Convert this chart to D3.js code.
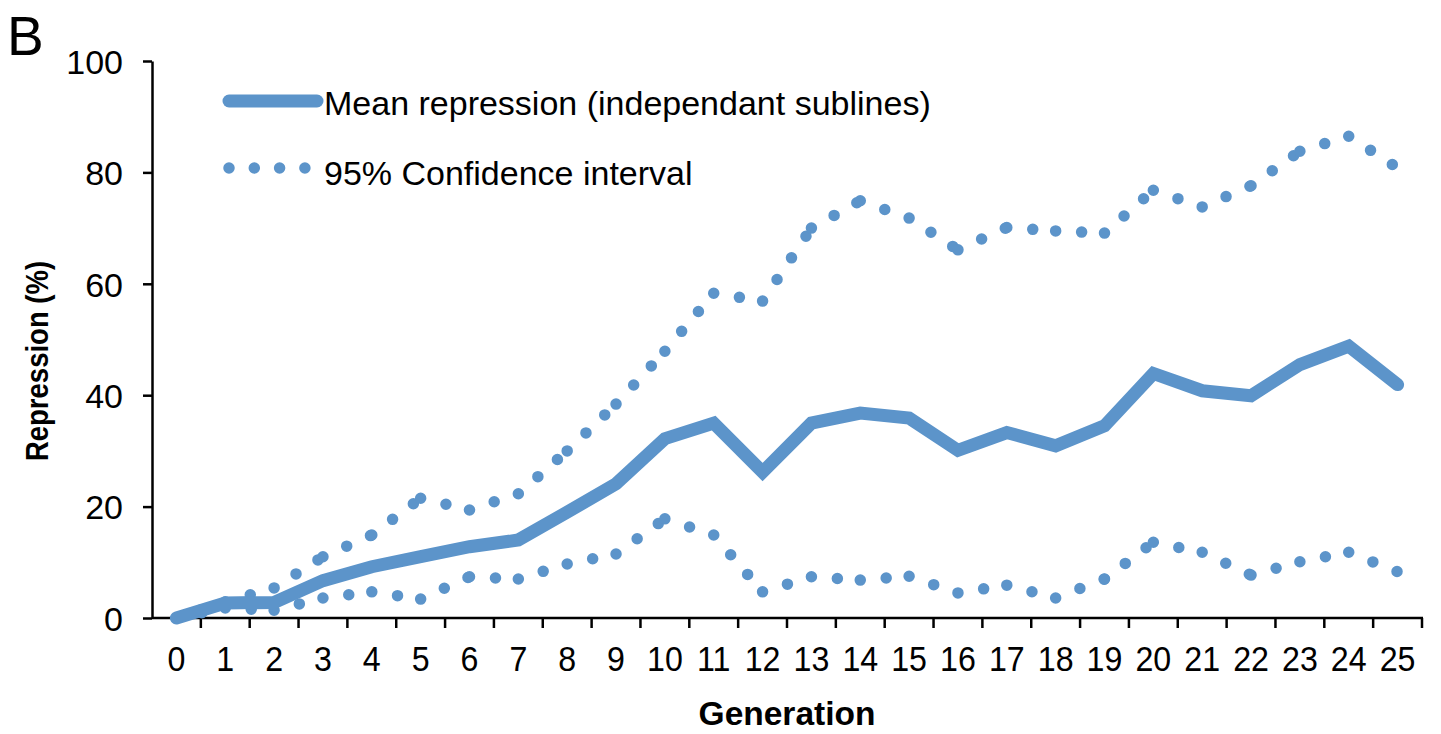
<!DOCTYPE html>
<html>
<head>
<meta charset="utf-8">
<script src="https://cdn.jsdelivr.net/npm/d3@7/dist/d3.min.js"></script>
<style>
  html, body { margin: 0; padding: 0; background: #fff; }
  svg { display: block; }
  text { font-family: "Liberation Sans", Arial, sans-serif; fill: #000; }
</style>
</head>
<body>
<svg id="chart" width="1441" height="734"></svg>
<script>
// Generations (x categories)
const generations = ["0","1","2","3","4","5","6","7","8","9","10","11","12","13","14","15","16","17","18","19","20","21","22","23","24","25"];

// Mean repression (%) over independent sublines
const meanRepression = [0, 2.7, 2.8, 6.7, 9.2, 11.0, 12.8, 14.0, 19.0, 24.1, 32.2, 35.0, 26.2, 35.0, 36.8, 35.9, 30.1, 33.3, 30.9, 34.5, 43.9, 40.8, 39.9, 45.5, 48.8, 41.9];

// 95% confidence interval bounds (%)
const ciUpper = [0, 2.9, 5.4, 11.0, 14.9, 21.5, 19.4, 22.3, 30.0, 38.4, 47.9, 58.3, 56.9, 70.0, 74.9, 71.8, 66.1, 70.1, 69.5, 69.1, 76.8, 73.8, 77.6, 83.8, 86.5, 80.8];
const ciLower = [0, 1.8, 1.4, 3.6, 4.7, 3.4, 7.4, 7.0, 9.7, 11.5, 17.8, 14.9, 4.7, 7.4, 6.8, 7.5, 4.5, 5.9, 3.6, 7.0, 13.6, 11.8, 7.7, 10.1, 11.8, 8.3];

// Axis ticks
const yTicks = [0, 20, 40, 60, 80, 100];

// Legend labels
const legendLabels = ["Mean repression (independant sublines)", "95% Confidence interval"];

const blue = "#5c94ca";
const svg = d3.select("#chart");

const plot = { left: 152, right: 1422, top: 61, bottom: 618 };

const x = d3.scaleBand().domain(generations).range([plot.left, plot.right]).padding(0);
const y = d3.scaleLinear().domain([0, 100]).range([plot.bottom, plot.top]);
const cx = g => x(g) + x.bandwidth() / 2;

// Panel letter
svg.append("text").attr("x", 7).attr("y", 55)
  .style("font-size", "55px").text("B");

// Y axis
const yAxis = svg.append("g")
  .attr("transform", `translate(${plot.left},0)`)
  .call(d3.axisLeft(y).tickValues(yTicks).tickSize(9).tickPadding(20).tickSizeOuter(0));
yAxis.select(".domain").attr("stroke", "#000").attr("stroke-width", 2.5);
yAxis.selectAll(".tick line").attr("stroke", "#000").attr("stroke-width", 2.5);
yAxis.selectAll(".tick text").style("font-size", "34px")
  .style("font-family", '"Liberation Sans", Arial, sans-serif').attr("fill", "#000").attr("dy", "0.36em");

// X axis: labels centred on categories, ticks on category boundaries
const xAxis = svg.append("g")
  .attr("transform", `translate(0,${plot.bottom})`)
  .call(d3.axisBottom(x).tickSize(0).tickPadding(0));
xAxis.select(".domain").remove();
xAxis.selectAll(".tick text")
  .style("font-size", "35px")
  .style("font-family", '"Liberation Sans", Arial, sans-serif')
  .attr("fill", "#000")
  .attr("dy", 0)
  .attr("y", 53)
  .attr("transform", "scale(0.92,1)")
  .attr("x", 0);
xAxis.selectAll(".tick").each(function() {
  const t = d3.select(this);
  t.attr("transform", `translate(${cx(t.datum())},0)`);
});

const boundaries = generations.map(g => x(g)).concat([plot.right]);
svg.append("line")
  .attr("x1", plot.left).attr("x2", plot.right + 1)
  .attr("y1", plot.bottom).attr("y2", plot.bottom)
  .attr("stroke", "#000").attr("stroke-width", 2.5);
svg.append("g").selectAll("line").data(boundaries.slice(1)).join("line")
  .attr("x1", d => d).attr("x2", d => d)
  .attr("y1", plot.bottom).attr("y2", plot.bottom + 10)
  .attr("stroke", "#000").attr("stroke-width", 2.5);

// Axis titles
svg.append("text")
  .attr("x", (plot.left + plot.right) / 2).attr("y", 725)
  .attr("text-anchor", "middle")
  .style("font-size", "33.5px").style("font-weight", "bold")
  .text("Generation");

svg.append("text")
  .attr("transform", `translate(48,361) rotate(-90) scale(0.86,1)`)
  .attr("text-anchor", "middle")
  .style("font-size", "32px").style("font-weight", "bold")
  .text("Repression (%)");

// Confidence interval: dotted line, dash pattern restarting on every segment
const seg = d3.line().x(d => d[0]).y(d => d[1]);
function dottedSeries(values) {
  const pts = values.map((v, i) => [cx(generations[i]), y(v)]);
  svg.append("g").selectAll("path").data(d3.pairs(pts)).join("path")
    .attr("d", d => seg(d))
    .attr("fill", "none")
    .attr("stroke", blue)
    .attr("stroke-width", 11.5)
    .attr("stroke-linecap", "round")
    .attr("stroke-dasharray", "0 26");
}
dottedSeries(ciUpper);
dottedSeries(ciLower);

// Mean line
const meanLine = d3.line()
  .x((d, i) => cx(generations[i]))
  .y(d => y(d));
svg.append("path")
  .datum(meanRepression)
  .attr("d", meanLine)
  .attr("fill", "none")
  .attr("stroke", blue)
  .attr("stroke-width", 13)
  .attr("stroke-linejoin", "miter")
  .attr("stroke-linecap", "round");

// Legend
const legend = svg.append("g");
legend.append("line")
  .attr("x1", 229).attr("x2", 317).attr("y1", 101).attr("y2", 101)
  .attr("stroke", blue).attr("stroke-width", 13).attr("stroke-linecap", "round");
legend.append("line")
  .attr("x1", 229).attr("x2", 317).attr("y1", 168).attr("y2", 168)
  .attr("stroke", blue).attr("stroke-width", 11.5).attr("stroke-linecap", "round")
  .attr("stroke-dasharray", "0 25.3");
legend.selectAll("text").data(legendLabels).join("text")
  .attr("x", 324)
  .attr("y", (d, i) => 103 + i * 70)
  .attr("dy", "0.36em")
  .style("font-size", "34px")
  .text(d => d);
</script>
</body>
</html>
